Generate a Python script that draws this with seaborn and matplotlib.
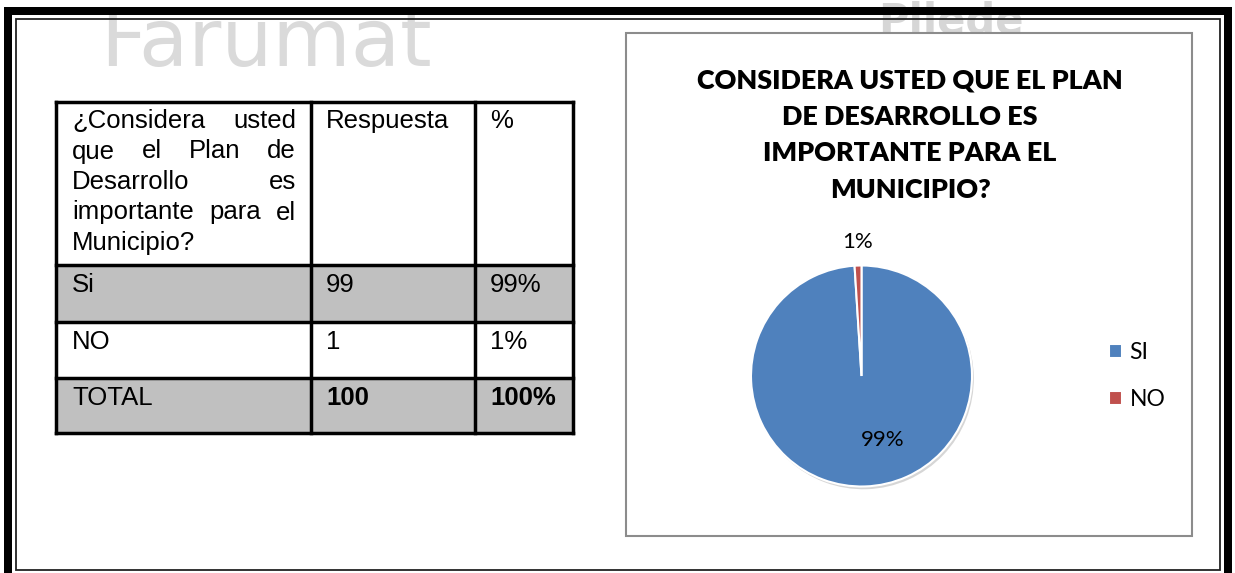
import matplotlib
matplotlib.use("Agg")
import matplotlib.pyplot as plt
import matplotlib.patches as mpatches
import seaborn as sns

# datos de la encuesta
question_lines = ["¿Considera usted", "que el Plan de", "Desarrollo es",
                  "importante para el", "Municipio?"]
header_cols = ["Respuesta", "%"]
row_labels = ["Si", "NO", "TOTAL"]
respuestas = [99, 1, 100]
porcentajes = ["99%", "1%", "100%"]
row_fill = [True, False, True]
row_bold = [False, False, True]

pie_labels = ["SI", "NO"]
pie_values = [99, 1]
pie_colors = ["#4F81BD", "#C0504D"]
chart_title = ["CONSIDERA USTED QUE EL PLAN", "DE DESARROLLO ES",
               "IMPORTANTE PARA EL", "MUNICIPIO?"]

sns.set_theme(style="white")
plt.rcParams["font.family"] = ["Liberation Sans", "DejaVu Sans"]
plt.rcParams["text.color"] = "black"

W, H = 1235, 573
fig = plt.figure(figsize=(W / 100, H / 100), dpi=100)
bg = fig.add_axes([0, 0, 1, 1])
bg.set_xlim(0, W)
bg.set_ylim(H, 0)
bg.axis("off")
renderer = fig.canvas.get_renderer()

# marca de agua
bg.text(100, 66, "Farumat", fontsize=58, color="#dadada", family="DejaVu Sans",
        va="baseline", zorder=0)
bg.text(878, 34, "Pilede", fontsize=30, color="#d6d6d6", family="DejaVu Sans",
        fontweight="bold", va="baseline", zorder=0)

# borde de la pagina
for x, y, w, h in [(4, 7, 8, H), (4, 7, 1228, 8), (1224, 7, 8, H)]:
    bg.add_patch(mpatches.Rectangle((x, y), w, h, color="black", lw=0, zorder=2))
bg.add_patch(mpatches.Rectangle((16, 19), 1204, 551, fill=False,
                                edgecolor="#222222", lw=1.3, zorder=2))

# tabla
x_cols = [56, 311, 475, 573]
y_rows = [102, 265, 322, 378, 433]
fs_tab = 18.5
for i, filled in enumerate(row_fill):
    if filled:
        bg.add_patch(mpatches.Rectangle((x_cols[0], y_rows[i + 1]), x_cols[-1] - x_cols[0],
                                        y_rows[i + 2] - y_rows[i + 1],
                                        color="#C0C0C0", lw=0, zorder=1))
for x in x_cols:
    bg.plot([x, x], [y_rows[0], y_rows[-1]], color="black", lw=2.5, zorder=3,
            solid_capstyle="projecting")
for y in y_rows:
    bg.plot([x_cols[0], x_cols[-1]], [y, y], color="black", lw=2.5, zorder=3,
            solid_capstyle="projecting")


def justify(words, x0, x1, y):
    texts = [bg.text(0, y, w, fontsize=fs_tab, va="baseline", zorder=4) for w in words]
    widths = [t.get_window_extent(renderer).width for t in texts]
    gap = (x1 - x0 - sum(widths)) / max(len(words) - 1, 1)
    x = x0
    for t, w in zip(texts, widths):
        t.set_x(x)
        x += w + gap


for j, line in enumerate(question_lines):
    y = 128 + j * 30.5
    if j < len(question_lines) - 1:
        justify(line.split(), 72, 296, y)
    else:
        bg.text(72, y, line, fontsize=fs_tab, va="baseline", zorder=4)

for c, label in enumerate(header_cols):
    bg.text(x_cols[c + 1] + 15, 128, label, fontsize=fs_tab, va="baseline", zorder=4)

for i, label in enumerate(row_labels):
    y = y_rows[i + 1] + 27
    weight = "bold" if row_bold[i] else "normal"
    bg.text(x_cols[0] + 16, y, label, fontsize=fs_tab, va="baseline", zorder=4)
    bg.text(x_cols[1] + 15, y, str(respuestas[i]), fontsize=fs_tab, va="baseline",
            fontweight=weight, zorder=4)
    bg.text(x_cols[2] + 15, y, porcentajes[i], fontsize=fs_tab, va="baseline",
            fontweight=weight, zorder=4)

# cuadro del grafico
bg.add_patch(mpatches.Rectangle((626, 33), 566, 503, facecolor="white",
                                edgecolor="#8c8c8c", lw=1.5, zorder=1))
for j, line in enumerate(chart_title):
    bg.text(910, 88 + j * 36.7, line, fontsize=19.4, fontweight="heavy", family="Lato",
            ha="center", va="baseline", zorder=4)

# pastel
cx, cy, R = 861.5, 376, 110.5
side = 2 * 1.25 * R
ax = fig.add_axes([(cx - side / 2) / W, (H - cy - side / 2) / H, side / W, side / H])
wedges, _, autotexts = ax.pie(
    pie_values, colors=pie_colors, startangle=90, counterclock=False,
    autopct=lambda p: f"{p:.0f}%",
    wedgeprops=dict(edgecolor="white", linewidth=1.5),
    textprops=dict(fontsize=16, family="Lato", color="black"),
    shadow=dict(ox=0.012, oy=-0.018, facecolor="#9a9a9a", edgecolor="none", alpha=0.4),
)
autotexts[0].set_position((0.195, -0.58))
autotexts[1].set_position((-0.04, 1.21))
for t in autotexts:
    t.set_ha("center")
    t.set_va("center")

fig.legend(wedges, pie_labels, loc="center left", bbox_to_anchor=(1109 / W, 1 - cy / H),
           frameon=False, prop=dict(family="Lato", size=16.5), handlelength=0.55,
           handleheight=0.55, handletextpad=0.35, labelspacing=1.15, borderpad=0,
           borderaxespad=0)

fig.savefig("out.png", dpi=100)
